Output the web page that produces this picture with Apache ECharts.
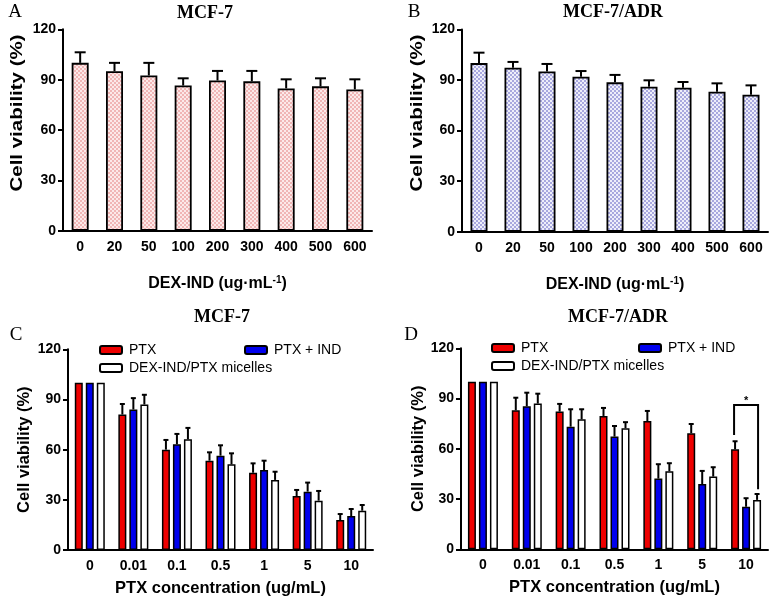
<!DOCTYPE html>
<html>
<head>
<meta charset="utf-8">
<script src="https://cdn.jsdelivr.net/npm/echarts@6/dist/echarts.min.js"></script>
<style>html,body{margin:0;padding:0;background:#fff}#c{width:775px;height:602px}</style>
</head>
<body>
<div id="c"></div>
<script>
// ---------- data ----------
var catsAB = ['0','20','50','100','200','300','400','500','600'];
var meanA = [100, 95, 92.5, 86.5, 89.5, 89, 84.8, 86, 84.2];
var errA  = [6.3, 5, 7.5, 4.3, 5.7, 6.2, 5.4, 4.8, 6];
var meanB = [100, 97.3, 95.1, 91.9, 88.6, 86, 85.4, 83, 81.3];
var errB  = [6.2, 3.4, 4.4, 3.4, 4.4, 3.8, 3.4, 5, 5.5];

var catsCD = ['0','0.01','0.1','0.5','1','5','10'];
var seriesNames = ['PTX', 'PTX + IND', 'DEX-IND/PTX micelles'];
var meanC_PTX = [100, 81, 60, 53.4, 46.2, 32.3, 17.9];
var errC_PTX  = [0, 6.3, 5.8, 5, 5.6, 3.6, 3.6];
var meanC_IND = [100, 84, 63.2, 56.4, 47.8, 34.9, 20.3];
var errC_IND  = [0, 6.8, 6.2, 6.2, 5.6, 5.4, 4.2];
var meanC_MIC = [100, 87, 66.2, 51.2, 41.9, 29.5, 23.5];
var errC_MIC  = [0, 5.8, 6.8, 6.6, 4.9, 5.8, 3.4];

var meanD_PTX = [100, 83, 82.2, 79.6, 76.6, 69.3, 59.7];
var errD_PTX  = [0, 7.5, 4.6, 4.8, 6, 5.5, 4.8];
var meanD_IND = [100, 85.4, 73.2, 67.3, 42.2, 39, 25.4];
var errD_IND  = [0, 8.1, 10.4, 6.3, 8.6, 7.8, 5.1];
var meanD_MIC = [100, 87, 77.6, 72.3, 46.6, 43.4, 29.5];
var errD_MIC  = [0, 5.9, 6, 3.6, 4.8, 5.6, 3.5];

// significance bracket in D: [category index, bracket top, left leg end, right leg end]
var sigD = [[6, 86.2, 68.3, 35.8]];
var sigLabel = '*';

var yTicks = {min: 0, max: 120, interval: 30};
var yName = 'Cell viability (%)';

// ---------- styles ----------
function makePattern(bg, fg) {
  var c = document.createElement('canvas');
  c.width = 4; c.height = 4;
  var g = c.getContext('2d');
  g.fillStyle = bg; g.fillRect(0, 0, 4, 4);
  g.fillStyle = fg; g.fillRect(0, 0, 2, 2); g.fillRect(2, 2, 2, 2);
  return {image: c, repeat: 'repeat'};
}
var pinkPat = makePattern('#fce9e9', '#f0b6b6');
var bluePat = makePattern('#eeeefa', '#a8a8de');

var FONT = '"Liberation Sans", Arial, sans-serif';
var SERIF = '"Liberation Serif", "Times New Roman", serif';

var grids = [
  {left: 63, top: 29.3, width: 309, height: 201.4},
  {left: 462, top: 29.4, width: 306, height: 202.3},
  {left: 68, top: 349.3, width: 305, height: 200.7},
  {left: 461, top: 348.3, width: 307, height: 201}
];

function xAxisOf(gi, cats, name, gap, fs) {
  return {
    gridIndex: gi, type: 'category', data: cats,
    axisLine: {lineStyle: {color: '#000', width: 2}},
    axisTick: {alignWithLabel: true, length: 5, lineStyle: {color: '#000', width: 2}},
    axisLabel: {color: '#000', fontWeight: 'bold', fontSize: 14, fontFamily: FONT, margin: 9},
    name: name, nameLocation: 'middle', nameGap: gap,
    nameTextStyle: {color: '#000', fontWeight: 'bold', fontSize: fs, fontFamily: FONT,
      rich: {sup: {fontSize: 10, fontWeight: 'bold', fontFamily: FONT, color: '#000', verticalAlign: 'top'}}}
  };
}
function yAxisOf(gi, name, gap) {
  return {
    gridIndex: gi, type: 'value', min: yTicks.min, max: yTicks.max, interval: yTicks.interval,
    axisLine: {show: true, lineStyle: {color: '#000', width: 2}},
    axisTick: {show: true, length: 5, lineStyle: {color: '#000', width: 2}},
    splitLine: {show: false},
    axisLabel: {color: '#000', fontWeight: 'bold', fontSize: 14, fontFamily: FONT, margin: 7},
    name: name, nameLocation: 'middle', nameGap: gap,
    nameTextStyle: {color: '#000', fontWeight: 'bold', fontSize: 16.5, fontFamily: FONT}
  };
}

function errRender(offset, capW) {
  return function (params, api) {
    var c = api.value(0), m = api.value(1), e = api.value(2);
    if (!e) return null;
    var p0 = api.coord([c, m]);
    var p1 = api.coord([c, m + e]);
    var x = p0[0] + offset;
    return {type: 'group', children: [
      {type: 'line', shape: {x1: x, y1: p0[1], x2: x, y2: p1[1]}, style: {stroke: '#000', lineWidth: 2}},
      {type: 'line', shape: {x1: x - capW / 2, y1: p1[1], x2: x + capW / 2, y2: p1[1]}, style: {stroke: '#000', lineWidth: 2}}
    ]};
  };
}
function errSeries(gi, means, errs, offset, capW) {
  return {
    type: 'custom', xAxisIndex: gi, yAxisIndex: gi, z: 5, silent: true,
    renderItem: errRender(offset, capW),
    data: means.map(function (m, i) { return [i, m, errs[i]]; })
  };
}

var BW = 8, BG = 3;
var colorsCD = ['#ee0000', '#0000ee', '#ffffff'];

var series = [];
series.push({type: 'bar', xAxisIndex: 0, yAxisIndex: 0, data: meanA, barWidth: 17,
  itemStyle: {color: pinkPat, borderColor: '#000', borderWidth: 1.8}});
series.push(errSeries(0, meanA, errA, 0, 11));
series.push({type: 'bar', xAxisIndex: 1, yAxisIndex: 1, data: meanB, barWidth: 17,
  itemStyle: {color: bluePat, borderColor: '#000', borderWidth: 1.8}});
series.push(errSeries(1, meanB, errB, 0, 11));

var cdSets = [
  [meanC_PTX, errC_PTX, meanC_IND, errC_IND, meanC_MIC, errC_MIC],
  [meanD_PTX, errD_PTX, meanD_IND, errD_IND, meanD_MIC, errD_MIC]
];
cdSets.forEach(function (set, k) {
  var gi = 2 + k;
  for (var s = 0; s < 3; s++) {
    series.push({type: 'bar', name: seriesNames[s], xAxisIndex: gi, yAxisIndex: gi,
      data: set[s * 2], barWidth: BW, barGap: (BG / BW * 100) + '%',
      itemStyle: {color: colorsCD[s], borderColor: '#000', borderWidth: 1.5}});
  }
  for (var s2 = 0; s2 < 3; s2++) {
    series.push(errSeries(gi, set[s2 * 2], set[s2 * 2 + 1], (s2 - 1) * (BW + BG), 5));
  }
});

// significance bracket
series.push({
  type: 'custom', xAxisIndex: 3, yAxisIndex: 3, z: 6, silent: true,
  data: sigD,
  renderItem: function (params, api) {
    var c = api.value(0);
    var top = api.coord([c, api.value(1)]);
    var l = api.coord([c, api.value(2)]);
    var r = api.coord([c, api.value(3)]);
    var xl = top[0] - (BW + BG) - 1, xr = top[0] + (BW + BG) + 1;
    return {type: 'group', children: [
      {type: 'polyline', shape: {points: [[xl, l[1]], [xl, top[1]], [xr, top[1]], [xr, r[1]]]},
        style: {stroke: '#000', lineWidth: 2, fill: null}},
      {type: 'text', x: (xl + xr) / 2, y: top[1] + 2,
        style: {text: sigLabel, font: 'bold 11px ' + FONT, fill: '#000', align: 'center', verticalAlign: 'bottom',
          textAlign: 'center', textVerticalAlign: 'bottom'}}
    ]};
  }
});

function legendOf(name, left, top) {
  return {data: [name], left: left, top: top, padding: 0, selectedMode: false, icon: 'roundRect',
    itemWidth: 22, itemHeight: 8, itemGap: 0,
    itemStyle: {borderColor: '#000', borderWidth: 2},
    textStyle: {color: '#000', fontSize: 14, fontFamily: FONT, padding: [0, 0, 0, 2]}};
}

function txt(t, x, y, font, rot, sx) {
  return {type: 'text', x: x, y: y, rotation: rot || 0, scaleX: sx || 1,
    style: {text: t, font: font, fill: '#000',
    align: 'center', verticalAlign: 'middle', textAlign: 'center', textVerticalAlign: 'middle'}};
}

var option = {
  animation: false,
  backgroundColor: '#fff',
  textStyle: {fontFamily: FONT},
  grid: grids,
  xAxis: [
    xAxisOf(0, catsAB, 'DEX-IND (ug·mL{sup|-1})', 45, 16),
    xAxisOf(1, catsAB, 'DEX-IND (ug·mL{sup|-1})', 45, 16),
    xAxisOf(2, catsCD, 'PTX concentration (ug/mL)', 30, 16.5),
    xAxisOf(3, catsCD, 'PTX concentration (ug/mL)', 30, 16.5)
  ],
  yAxis: [yAxisOf(0, '', 37), yAxisOf(1, '', 36), yAxisOf(2, yName, 35), yAxisOf(3, yName, 33)],
  legend: [
    legendOf('PTX', 99, 343), legendOf('PTX + IND', 244, 343), legendOf('DEX-IND/PTX micelles', 99, 361),
    legendOf('PTX', 491, 341), legendOf('PTX + IND', 638, 341), legendOf('DEX-IND/PTX micelles', 491, 359)
  ],
  graphic: [
    txt('MCF-7', 205, 13, 'bold 18px ' + SERIF),
    txt('MCF-7/ADR', 613, 12.5, 'bold 18px ' + SERIF),
    txt('MCF-7', 222, 317.5, 'bold 18px ' + SERIF),
    txt('MCF-7/ADR', 618, 317.5, 'bold 18px ' + SERIF),
    txt('A', 15, 12, '19px ' + SERIF),
    txt('B', 414, 12, '19px ' + SERIF),
    txt('C', 16, 335, '19px ' + SERIF),
    txt('D', 411, 335, '19px ' + SERIF),
    txt(yName, 18, 113, 'bold 16px ' + FONT, Math.PI / 2, 1.28),
    txt(yName, 418, 113, 'bold 16px ' + FONT, Math.PI / 2, 1.28)
  ],
  series: series
};
var chart = echarts.init(document.getElementById('c'), null, {renderer: 'canvas'});
chart.setOption(option);
</script>
</body>
</html>
